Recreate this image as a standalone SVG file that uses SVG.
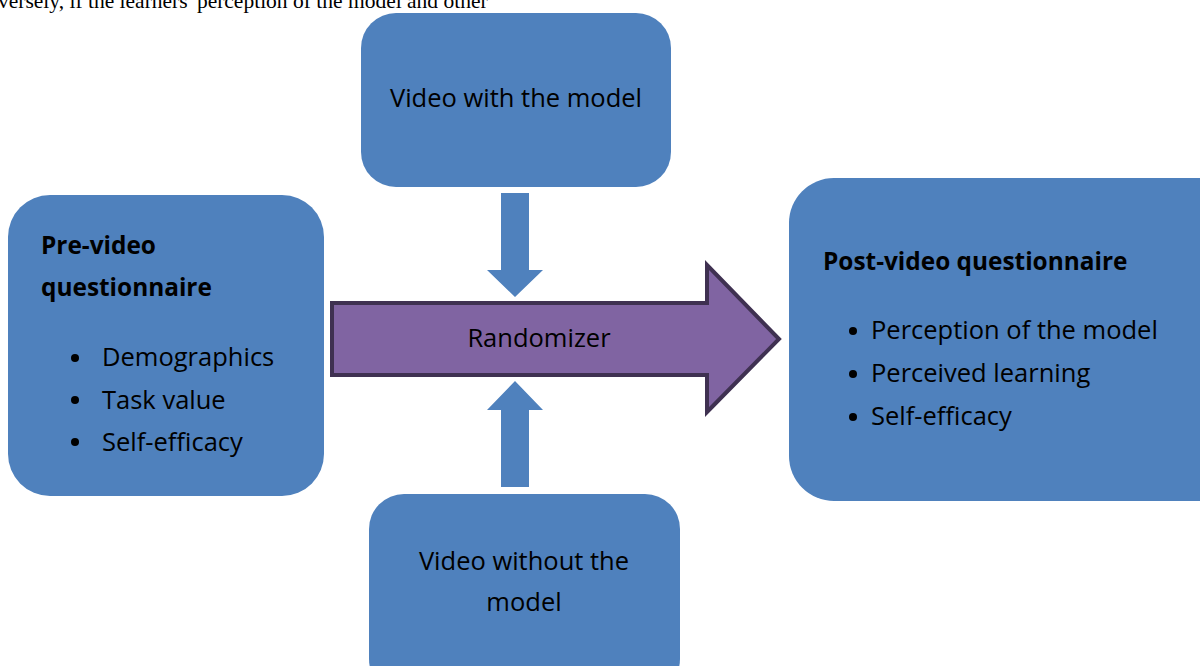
<svg xmlns="http://www.w3.org/2000/svg" width="1200" height="666" viewBox="0 0 1200 666">
<style>
.box{fill:#4F81BD}
.t{font-family:"Open Sans","Noto Sans",sans-serif;font-size:25.5px;fill:#000}
.b{font-weight:bold;font-size:24.4px}
.c{text-anchor:middle}
.blt{fill:#000}
</style>
<rect width="1200" height="666" fill="#fff"/>
<text x="-2" y="8" font-family="Liberation Serif" font-size="21.5" fill="#000">versely, if the learners' perception of the model and other</text>
<g id="connectors">
<polygon points="501,193 529,193 529,270 543,270 515,297 487,270 501,270" fill="#4F81BD"/>
<polygon points="501,487 529,487 529,410 543,410 515,381 487,410 501,410" fill="#4F81BD"/>
<g id="randomizer">
<polygon points="332,303 707,303 707,265 779,339 707,412 707,375 332,375" fill="#8064A2" stroke="#3F3151" stroke-width="4" stroke-linejoin="miter"/>
<text class="t c" x="539" y="347">Randomizer</text>
</g>
</g>
<g id="video-with">
<rect class="box" x="361" y="13" width="310" height="174" rx="35"/>
<text class="t c" x="516" y="107">Video with the model</text>
</g>
<g id="video-without">
<rect class="box" x="369" y="494" width="311" height="200" rx="35"/>
<text class="t c" x="524" y="570">Video without the</text>
<text class="t c" x="524" y="611">model</text>
</g>
<g id="pre-video">
<rect class="box" x="8" y="195" width="316" height="301" rx="42"/>
<text class="t b" x="41" y="254">Pre-video</text>
<text class="t b" x="41" y="296">questionnaire</text>
<circle class="blt" cx="75" cy="358" r="4"/>
<circle class="blt" cx="75" cy="400" r="4"/>
<circle class="blt" cx="75" cy="442" r="4"/>
<text class="t" x="102" y="366">Demographics</text>
<text class="t" x="102" y="409">Task value</text>
<text class="t" x="102" y="451">Self-efficacy</text>
</g>
<g id="post-video">
<rect class="box" x="789" y="178" width="460" height="323" rx="45"/>
<text class="t b" x="823" y="270">Post-video questionnaire</text>
<circle class="blt" cx="853" cy="331" r="4"/>
<circle class="blt" cx="853" cy="374" r="4"/>
<circle class="blt" cx="853" cy="417" r="4"/>
<text class="t" x="871" y="339">Perception of the model</text>
<text class="t" x="871" y="382">Perceived learning</text>
<text class="t" x="871" y="425">Self-efficacy</text>
</g>
</svg>
